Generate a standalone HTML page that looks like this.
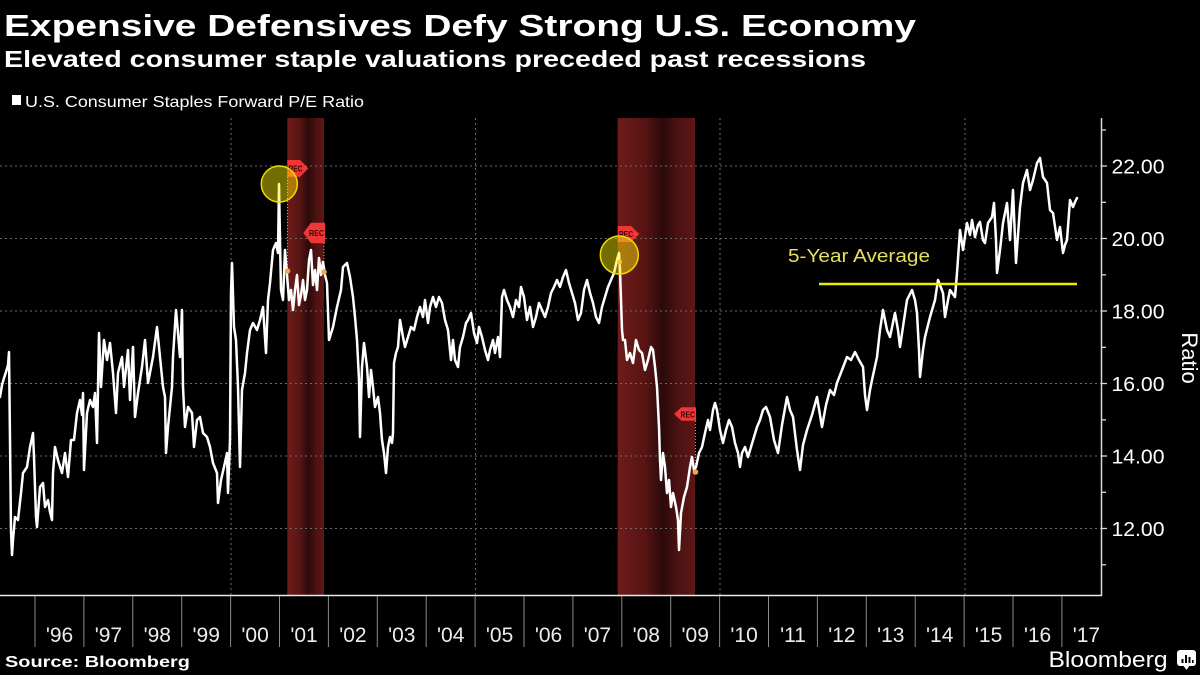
<!DOCTYPE html>
<html>
<head>
<meta charset="utf-8">
<style>
  html,body{margin:0;padding:0;background:#000;}
  svg{display:block;}
  text{font-family:"Liberation Sans", Arial, sans-serif;}
</style>
</head>
<body>
<svg width="1200" height="675" viewBox="0 0 1200 675" xmlns="http://www.w3.org/2000/svg">
  <defs>
    <linearGradient id="band" x1="0" y1="0" x2="1" y2="0">
      <stop offset="0" stop-color="#6e1b1b"/>
      <stop offset="0.35" stop-color="#581414"/>
      <stop offset="0.58" stop-color="#2c0a0a"/>
      <stop offset="0.78" stop-color="#4c1212"/>
      <stop offset="1" stop-color="#5e1616"/>
    </linearGradient>
  </defs>
  <rect x="0" y="0" width="1200" height="675" fill="#000"/>

  <!-- Title -->
  <text x="4" y="36" font-size="31" font-weight="bold" fill="#ffffff" textLength="912" lengthAdjust="spacingAndGlyphs">Expensive Defensives Defy Strong U.S. Economy</text>
  <text x="4" y="67" font-size="23" font-weight="bold" fill="#ffffff" textLength="862" lengthAdjust="spacingAndGlyphs">Elevated consumer staple valuations preceded past recessions</text>

  <!-- Legend -->
  <rect x="12" y="95" width="9" height="10" fill="#ffffff"/>
  <text x="25" y="107" font-size="16" fill="#ffffff" textLength="339" lengthAdjust="spacingAndGlyphs">U.S. Consumer Staples Forward P/E Ratio</text>

  <!-- Recession bands -->
  <rect x="287.3" y="118" width="36.7" height="477" fill="url(#band)"/>
  <rect x="617.7" y="118" width="77.3" height="477" fill="url(#band)"/>

  <!-- Horizontal gridlines -->
  <g stroke="#6a6a6a" stroke-width="1" stroke-dasharray="2,3">
    <line x1="0" y1="166" x2="1101" y2="166"/>
    <line x1="0" y1="238.5" x2="1101" y2="238.5"/>
    <line x1="0" y1="311" x2="1101" y2="311"/>
    <line x1="0" y1="383.5" x2="1101" y2="383.5"/>
    <line x1="0" y1="456" x2="1101" y2="456"/>
    <line x1="0" y1="528.5" x2="1101" y2="528.5"/>
    <line x1="231" y1="118" x2="231" y2="595"/>
    <line x1="475.5" y1="118" x2="475.5" y2="595"/>
    <line x1="720" y1="118" x2="720" y2="595"/>
    <line x1="965" y1="118" x2="965" y2="595"/>
  </g>

  <!-- Orange dotted connectors -->
  <g stroke="#e89a3a" stroke-width="1" stroke-dasharray="1,2">
    <line x1="287.5" y1="177" x2="287.5" y2="271"/>
    <line x1="324" y1="243" x2="324" y2="272"/>
    <line x1="695.5" y1="421" x2="695.5" y2="472"/>
  </g>

  <!-- Series -->
  <polyline fill="none" stroke="#ffffff" stroke-width="2.5" stroke-linejoin="round" stroke-linecap="round" points="
0,397 2,385 4,378 6,372 8,365 9,352 10,440 11,530 12,555 13,540 15,517 18,520 21,493 23,473 25,470 27,467 30,447 32,438 33,433 34,457 36,517 37,527 40,487 43,483 45,507 48,500 50,512 52,520 53,473 55,447 58,460 62,473 65,453 68,477 71,440 74,440 77,413 80,400 82,415 83,393 84,470 87,413 90,400 93,407 95,393 97,443 99,333 101,387 104,340 107,360 110,343 113,373 116,413 118,373 122,357 124,387 128,350 130,400 133,347 135,417 138,393 142,367 145,340 148,383 153,357 157,327 159,347 163,387 165,397 166,453 168,427 172,387 173,357 176,310 178,333 180,357 182,310 183,387 185,427 188,407 192,413 194,447 197,420 200,417 203,433 207,437 210,447 213,463 217,473 218,503 221,480 224,467 227,453 228,493 230,440 231,293 232,263 234,327 236,340 238,387 240,467 242,390 245,373 247,353 250,330 253,323 257,330 260,320 263,307 266,353 268,300 270,283 273,250 276,243 278,253 279,184 280,240 281,290 283,300 285,250 287,275
289,300 291,290 293,310 295,290 297,275 299,305 301,295 303,280 305,300 307,290 309,260 311,250 313,285 315,270 317,290 319,258 321,275 323,262 325,275 327,283 329,340 333,327 337,307 341,290 343,267 347,263 350,277 353,297 355,317 357,340 359,380 360,437 362,367 364,343 367,367 369,397 371,370 373,387 375,407 378,397 380,413 381,427 382,440 384,453 386,473 388,447 390,437 392,443 393,433 394,363 396,353 398,347 400,320 403,337 405,347 408,337 411,327 414,330 417,317 420,307 423,317 425,300 428,323 430,307 433,297 436,307 439,297 442,303 445,320 448,330 451,360 453,340 455,360 458,367 460,347 463,337 466,323 468,320 471,313 474,333 477,343 479,327 482,337 485,350 488,360 490,350 493,340 495,353 498,337 500,357 502,297 504,290 507,300 510,307 513,317 516,300 519,307 521,287 524,297 527,320 530,307 533,327 536,317 539,303 542,310 545,317 548,307 551,293 554,287 557,280 560,287 563,277 566,270 569,283 572,293 575,303 578,320 581,313 584,290 587,280 590,293 593,303 596,317 599,323 602,307 605,297 608,287 611,280 614,273 617,260 619,253 620,270 621,300 622,330 623,340 625,340 627,360 630,353 633,363 636,340 639,350 642,353 645,370 648,360 651,347 653,350 655,367 657,387 659,427 660,460 661,480 663,453 665,467 667,493 669,480 671,507 673,493 676,507 678,520 679,550 681,513 684,497 687,487 690,467 692,457 694,470 696,467 699,453 702,447 705,433 708,420 710,430 713,410 715,403 717,410 720,430 723,443 726,430 729,420 732,427 735,443 738,453 740,467 742,453 745,447 748,457 751,447 754,437 757,427 760,420 763,410 766,407 770,417 774,440 778,453 782,425 787,397 790,410 793,417 797,450 800,470 803,445 807,430 812,415 817,397 822,427 826,405 830,390 834,395 837,383 842,370 847,357 851,360 855,352 859,360 863,367 865,395 867,410 870,390 872,380 877,357 880,330 883,310 887,330 890,337 895,313 898,330 900,347 904,320 907,300 912,290 915,300 917,313 919,350 920,377 923,350 925,337 930,317 935,300 938,280 943,293 945,317 948,300 950,290 955,297 957,273 960,230 963,250 967,223 970,235 972,220 975,237 978,225 980,222 983,240 985,243 988,223 992,217 994,203 996,240 997,273 1000,250 1003,223 1007,203 1010,240 1013,190 1016,263 1020,207 1023,183 1027,170 1030,190 1033,180 1037,163 1040,158 1043,177 1047,183 1050,210 1053,213 1057,240 1060,227 1063,253 1065,245 1067,240 1070,200 1073,207 1075,202 1077,198"/>

  <!-- orange dots -->
  <g fill="#f0a84a">
    <circle cx="287.5" cy="271" r="2.8"/>
    <circle cx="324" cy="272" r="2.8"/>
    <circle cx="695.5" cy="472" r="2.8"/>
    <circle cx="619.5" cy="262" r="2.5"/>
  </g>

  <!-- 5-year average -->
  <line x1="819" y1="284" x2="1077" y2="284" stroke="#f2ea00" stroke-width="2.6"/>
  <text x="788" y="262" font-size="18" fill="#e6e05a" textLength="142" lengthAdjust="spacingAndGlyphs">5-Year Average</text>

  <!-- REC markers -->
  <g fill="#f23535">
    <polygon points="287.3,160 300,160 308.3,168.4 300,176.7 287.3,176.7"/>
    <polygon points="303.3,233 311,222.7 325,222.7 325,243.3 311,243.3"/>
    <polygon points="617.7,226 631,226 639.3,234 631,242 617.7,242"/>
    <polygon points="674,414 681.5,407.3 696,407.3 696,420.7 681.5,420.7"/>
  </g>
  <g font-size="8.5" font-weight="bold" fill="#3a0505">
    <text x="288.5" y="171.5" textLength="14" lengthAdjust="spacingAndGlyphs">REC</text>
    <text x="309" y="236" textLength="15" lengthAdjust="spacingAndGlyphs">REC</text>
    <text x="619" y="237" textLength="14" lengthAdjust="spacingAndGlyphs">REC</text>
    <text x="680.5" y="417.3" textLength="14.5" lengthAdjust="spacingAndGlyphs">REC</text>
  </g>

  <!-- highlight circles -->
  <circle cx="279.3" cy="184" r="18" fill="rgba(255,240,0,0.45)" stroke="#e8e000" stroke-width="1.5"/>
  <circle cx="619.3" cy="255" r="19" fill="rgba(255,240,0,0.45)" stroke="#e8e000" stroke-width="1.5"/>

  <!-- Axes -->
  <line x1="1101.5" y1="118" x2="1101.5" y2="596" stroke="#d8d8d8" stroke-width="1.5"/>
  <line x1="0" y1="595.5" x2="1102" y2="595.5" stroke="#e8e8e8" stroke-width="1.5"/>

  <!-- Y ticks -->
  <g stroke="#d8d8d8" stroke-width="1.3">
    <line x1="1101" y1="130" x2="1106" y2="130"/>
    <line x1="1101" y1="166" x2="1107" y2="166"/>
    <line x1="1101" y1="202.3" x2="1106" y2="202.3"/>
    <line x1="1101" y1="238.5" x2="1107" y2="238.5"/>
    <line x1="1101" y1="274.8" x2="1106" y2="274.8"/>
    <line x1="1101" y1="311" x2="1107" y2="311"/>
    <line x1="1101" y1="347.3" x2="1106" y2="347.3"/>
    <line x1="1101" y1="383.5" x2="1107" y2="383.5"/>
    <line x1="1101" y1="419.8" x2="1106" y2="419.8"/>
    <line x1="1101" y1="456" x2="1107" y2="456"/>
    <line x1="1101" y1="492.3" x2="1106" y2="492.3"/>
    <line x1="1101" y1="528.5" x2="1107" y2="528.5"/>
    <line x1="1101" y1="564.8" x2="1106" y2="564.8"/>
  </g>
  <g font-size="20" fill="#ffffff">
    <text x="1111.5" y="173.3" textLength="53" lengthAdjust="spacingAndGlyphs">22.00</text>
    <text x="1111.5" y="245.8" textLength="53" lengthAdjust="spacingAndGlyphs">20.00</text>
    <text x="1111.5" y="318.3" textLength="53" lengthAdjust="spacingAndGlyphs">18.00</text>
    <text x="1111.5" y="390.8" textLength="53" lengthAdjust="spacingAndGlyphs">16.00</text>
    <text x="1111.5" y="463.3" textLength="53" lengthAdjust="spacingAndGlyphs">14.00</text>
    <text x="1111.5" y="535.8" textLength="53" lengthAdjust="spacingAndGlyphs">12.00</text>
  </g>
  <text transform="translate(1182,358) rotate(90)" text-anchor="middle" font-size="22" fill="#ffffff">Ratio</text>

  <!-- X axis dividers -->
  <g stroke="#8a8a8a" stroke-width="1">
    <line x1="35" y1="596" x2="35" y2="647"/>
    <line x1="83.9" y1="596" x2="83.9" y2="647"/>
    <line x1="132.8" y1="596" x2="132.8" y2="647"/>
    <line x1="181.7" y1="596" x2="181.7" y2="647"/>
    <line x1="230.6" y1="596" x2="230.6" y2="647"/>
    <line x1="279.5" y1="596" x2="279.5" y2="647"/>
    <line x1="328.4" y1="596" x2="328.4" y2="647"/>
    <line x1="377.3" y1="596" x2="377.3" y2="647"/>
    <line x1="426.2" y1="596" x2="426.2" y2="647"/>
    <line x1="475.1" y1="596" x2="475.1" y2="647"/>
    <line x1="524" y1="596" x2="524" y2="647"/>
    <line x1="572.9" y1="596" x2="572.9" y2="647"/>
    <line x1="621.8" y1="596" x2="621.8" y2="647"/>
    <line x1="670.7" y1="596" x2="670.7" y2="647"/>
    <line x1="719.6" y1="596" x2="719.6" y2="647"/>
    <line x1="768.5" y1="596" x2="768.5" y2="647"/>
    <line x1="817.4" y1="596" x2="817.4" y2="647"/>
    <line x1="866.3" y1="596" x2="866.3" y2="647"/>
    <line x1="915.2" y1="596" x2="915.2" y2="647"/>
    <line x1="964.1" y1="596" x2="964.1" y2="647"/>
    <line x1="1013" y1="596" x2="1013" y2="647"/>
    <line x1="1061.9" y1="596" x2="1061.9" y2="647"/>
  </g>
  <g font-size="21" fill="#ececec" text-anchor="middle">
    <text x="59.5" y="642">'96</text>
    <text x="108.4" y="642">'97</text>
    <text x="157.3" y="642">'98</text>
    <text x="206.2" y="642">'99</text>
    <text x="255.1" y="642">'00</text>
    <text x="304" y="642">'01</text>
    <text x="352.9" y="642">'02</text>
    <text x="401.8" y="642">'03</text>
    <text x="450.7" y="642">'04</text>
    <text x="499.6" y="642">'05</text>
    <text x="548.5" y="642">'06</text>
    <text x="597.4" y="642">'07</text>
    <text x="646.3" y="642">'08</text>
    <text x="695.2" y="642">'09</text>
    <text x="744.1" y="642">'10</text>
    <text x="793" y="642">'11</text>
    <text x="841.9" y="642">'12</text>
    <text x="890.8" y="642">'13</text>
    <text x="939.7" y="642">'14</text>
    <text x="988.6" y="642">'15</text>
    <text x="1037.5" y="642">'16</text>
    <text x="1086.4" y="642">'17</text>
  </g>

  <!-- Footer -->
  <text x="5" y="667" font-size="16" font-weight="bold" fill="#ffffff" textLength="185" lengthAdjust="spacingAndGlyphs">Source: Bloomberg</text>
  <text x="1048.5" y="667" font-size="22" fill="#ffffff" textLength="119" lengthAdjust="spacingAndGlyphs">Bloomberg</text>
  <g>
    <rect x="1177" y="650" width="19" height="16" rx="3" fill="#ffffff"/>
    <polygon points="1183,665 1190,665 1186.5,670" fill="#ffffff"/>
    <rect x="1181.5" y="659" width="2" height="4" fill="#000"/>
    <rect x="1185" y="655" width="2" height="8" fill="#000"/>
    <rect x="1188.5" y="657" width="2" height="6" fill="#000"/>
    <rect x="1192" y="660" width="1.6" height="3" fill="#000"/>
  </g>
</svg>
</body>
</html>
